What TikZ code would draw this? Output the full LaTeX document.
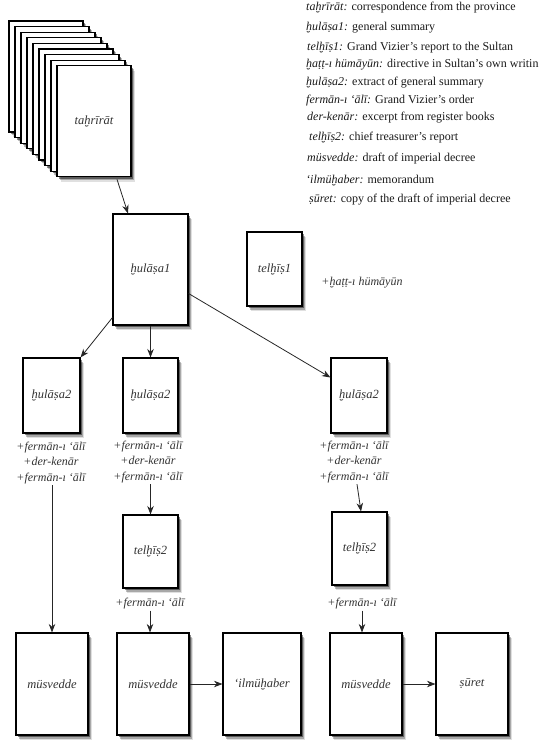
\documentclass[tikz,border=0pt]{standalone}
\usepackage{fontspec}
\setmainfont{Liberation Serif}
\usetikzlibrary{shadows,arrows.meta}
\tikzset{
 doc/.style={draw=black, line width=1.1pt, fill=white, inner sep=0pt,
   font=\itshape\fontsize{12.5}{14}\selectfont, text=black!80,
   drop shadow={shadow xshift=3.5pt,shadow yshift=-5pt,opacity=.12,fill=black},
   drop shadow={shadow xshift=2.5pt,shadow yshift=-3.5pt,opacity=.25,fill=black},
   drop shadow={shadow xshift=1.5pt,shadow yshift=-2pt,opacity=.45,fill=black}},
 lbl/.style={font=\itshape\fontsize{12}{15.5}\selectfont, text=black!80, align=center, inner sep=1pt},
 leg/.style={anchor=base west, inner sep=0pt, font=\fontsize{12}{14}\selectfont, text=black!90},
 arr/.style={-{Stealth[length=8.5pt,width=6.5pt]}, line width=0.8pt, draw=black!85}
}
\begin{document}
\begin{tikzpicture}[x=1pt,y=-1pt]
\useasboundingbox (0,0) rectangle (538,754);
% legend
\node[leg] (g1) at (306,11) {\textit{taḫrīrāt:} correspondence from the province};
\node[leg] (g2) at (306,31) {\textit{ḫulāṣa1:} general summary};
\node[leg] (g3) at (307,51) {\textit{telḫīṣ1:} Grand Vizier's report to the Sultan};
\node[leg] (g4) at (306,68) {\textit{ḫaṭṭ-ı hümāyūn:} directive in Sultan's own writin};
\node[leg] (g5) at (306,86) {\textit{ḫulāṣa2:} extract of general summary};
\node[leg] (g6) at (306,104) {\textit{fermān-ı ‘ālī:} Grand Vizier's order};
\node[leg] (g7) at (307,121) {\textit{der-kenār:} excerpt from register books};
\node[leg] (g8) at (309,141) {\textit{telḫīṣ2:} chief treasurer's report};
\node[leg] (g9) at (307,162) {\textit{müsvedde:} draft of imperial decree};
\node[leg] (g10) at (306,183) {\textit{‘ilmüḫaber:} memorandum};
\node[leg] (g11) at (309,202) {\textit{ṣūret:} copy of the draft of imperial decree};
% stack of tahrirat
\foreach \k in {0,...,7}{
  \node[doc, minimum width=74pt, minimum height=111pt] (p\k) at ({46+6*\k},{76.5+5.6*\k}) {};
}
\node[doc, minimum width=74pt, minimum height=111pt] (tahrirat) at (94,121.3) {taḫrīrāt};
% documents
\node[doc, minimum width=75pt, minimum height=111pt] (hul1) at (150.5,269.5) {ḫulāṣa1};
\node[doc, minimum width=55pt, minimum height=74pt] (tel1) at (274.5,269) {telḫīṣ1};
\node[lbl] (hatt) at (362,283) {+ḫaṭṭ-ı hümāyūn};
\node[doc, minimum width=57pt, minimum height=75pt] (hul2a) at (51.5,395.5) {ḫulāṣa2};
\node[doc, minimum width=55pt, minimum height=75pt] (hul2b) at (150.5,395.5) {ḫulāṣa2};
\node[doc, minimum width=56pt, minimum height=75pt] (hul2c) at (359,395.5) {ḫulāṣa2};
\node[lbl] (la) at (51,463) {+fermān-ı ‘ālī\\+der-kenār\\+fermān-ı ‘ālī};
\node[lbl] (lb) at (148,462) {+fermān-ı ‘ālī\\+der-kenār\\+fermān-ı ‘ālī};
\node[lbl] (lc) at (354,462) {+fermān-ı ‘ālī\\+der-kenār\\+fermān-ı ‘ālī};
\node[doc, minimum width=55pt, minimum height=73pt] (tel2b) at (150.5,551.5) {telḫīṣ2};
\node[doc, minimum width=55pt, minimum height=73pt] (tel2c) at (359.5,548.5) {telḫīṣ2};
\node[lbl] (ld) at (150,604) {+fermān-ı ‘ālī};
\node[lbl] (le) at (362,604) {+fermān-ı ‘ālī};
\node[doc, minimum width=72pt, minimum height=102pt] (mus1) at (52,684) {müsvedde};
\node[doc, minimum width=72pt, minimum height=102pt] (mus2) at (153,684) {müsvedde};
\node[doc, minimum width=78pt, minimum height=102pt] (ilm) at (262,684) {‘ilmüḫaber};
\node[doc, minimum width=72pt, minimum height=102pt] (mus3) at (366,684) {müsvedde};
\node[doc, minimum width=72pt, minimum height=102pt] (sur) at (472,684) {ṣūret};
% connectors
\draw[arr] ([xshift=23pt,yshift=-2pt]tahrirat.south) -- ([xshift=-22.5pt]hul1.north);
\draw[arr] ([yshift=8pt]hul1.south west) -- (hul2a.north east);
\draw[arr] (hul1.south) -- (hul2b.north);
\draw[arr] ([yshift=-24pt]hul1.east) -- ([yshift=18pt]hul2c.west);
\draw[arr] (mus1.north |- la.south) -- (mus1.north);
\draw[arr] (tel2b.north |- lb.south) -- (tel2b.north);
\draw[arr] ([xshift=3pt]lc.south) -- ([xshift=1.5pt]tel2c.north);
\draw[arr] (ld.south) -- (mus2.north -| ld.south);
\draw[arr] (le.south) -- (mus3.north -| le.south);
\draw[arr] (mus2.east) -- (ilm.west);
\draw[arr] (mus3.east) -- (sur.west);
\end{tikzpicture}
\end{document}
